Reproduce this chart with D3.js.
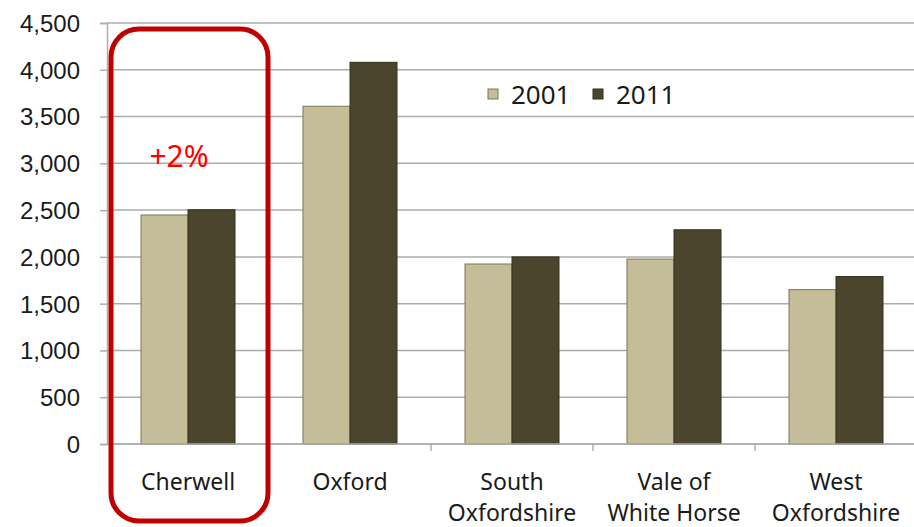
<!DOCTYPE html>
<html>
<head>
<meta charset="utf-8">
<script src="https://cdn.jsdelivr.net/npm/d3@7"></script>
<style>
  body { margin: 0; background: #fff; }
  svg { display: block; font-family: "Noto Sans", "Open Sans", sans-serif; }
</style>
</head>
<body>
<div id="chart"></div>
<script>
// data
var districts = ["Cherwell", "Oxford", "South Oxfordshire", "Vale of White Horse", "West Oxfordshire"];
var labelLines = [["Cherwell"], ["Oxford"], ["South", "Oxfordshire"], ["Vale of", "White Horse"], ["West", "Oxfordshire"]];
var years = ["2001", "2011"];
var values2001 = [2448, 3610, 1924, 1977, 1650];
var values2011 = [2504, 4080, 2000, 2290, 1790];
var yTicks = [0, 500, 1000, 1500, 2000, 2500, 3000, 3500, 4000, 4500];

var width = 914, height = 527;
var plot = {left: 107, right: 917, top: 23, bottom: 444};

var svg = d3.select("#chart").append("svg")
  .attr("width", width)
  .attr("height", height);

var x0 = d3.scaleBand().domain(districts).range([plot.left, plot.right]).padding(0);
var x1 = d3.scaleBand().domain(years).range([34, 128]).padding(0);
var y = d3.scaleLinear().domain([0, 4500]).range([plot.bottom, plot.top]);

var colors = {"2001": "#C4BD97", "2011": "#4A452C"};
var strokes = {"2001": "#7D7759", "2011": "#36321F"};

// gridlines
svg.append("g")
  .selectAll("line")
  .data(yTicks)
  .enter().append("line")
  .attr("x1", plot.left).attr("x2", width)
  .attr("y1", function(d){ return y(d); })
  .attr("y2", function(d){ return y(d); })
  .style("stroke", "#ADADAD")
  .style("stroke-width", 1.5);

// y axis
var yAxis = svg.append("g")
  .attr("transform", "translate(" + plot.left + ",0)")
  .call(d3.axisLeft(y).tickValues(yTicks).tickSize(7).tickPadding(6).tickFormat(d3.format(",")));
yAxis.select(".domain").style("stroke", "#ADADAD").style("stroke-width", 1.5);
yAxis.selectAll(".tick line").style("stroke", "#ADADAD").style("stroke-width", 1.5);
yAxis.selectAll("text")
  .style("font-size", "24px")
  .style("fill", "#1a1a1a")
  .attr("x", -27)
  .attr("dy", "0.35em");

// bars
var rows = districts.map(function(d, i){
  return {name: d, vals: [{year: "2001", v: values2001[i]}, {year: "2011", v: values2011[i]}]};
});

var groups = svg.append("g").selectAll("g")
  .data(rows)
  .enter().append("g")
  .attr("transform", function(d){ return "translate(" + x0(d.name) + ",0)"; });

groups.selectAll("rect")
  .data(function(d){ return d.vals; })
  .enter().append("rect")
  .attr("x", function(d){ return x1(d.year); })
  .attr("width", x1.bandwidth())
  .attr("y", function(d){ return y(d.v); })
  .attr("height", function(d){ return y(0) - y(d.v); })
  .style("fill", function(d){ return colors[d.year]; })
  .style("stroke", function(d){ return strokes[d.year]; })
  .style("stroke-width", 1);

// x axis line with category separators
var xAxis = svg.append("g");
xAxis.append("line")
  .attr("x1", plot.left).attr("x2", width)
  .attr("y1", y(0)).attr("y2", y(0))
  .style("stroke", "#ADADAD").style("stroke-width", 1.5);
xAxis.selectAll(".sep")
  .data(districts.slice(1))
  .enter().append("line")
  .attr("x1", function(d){ return x0(d); })
  .attr("x2", function(d){ return x0(d); })
  .attr("y1", y(0)).attr("y2", y(0) + 7)
  .style("stroke", "#ADADAD").style("stroke-width", 1.5);

var lbl = xAxis.selectAll(".lbl")
  .data(districts)
  .enter().append("text")
  .attr("text-anchor", "middle")
  .style("font-size", "23px")
  .style("fill", "#1a1a1a")
  .attr("transform", function(d){ return "translate(" + (x0(d) + x0.bandwidth() / 2) + ",490)"; });
lbl.each(function(d, i){
  var t = d3.select(this);
  labelLines[i].forEach(function(line, k){
    t.append("tspan").attr("x", 0).attr("dy", k === 0 ? 0 : 31).text(line);
  });
});

// legend
var legend = svg.append("g").attr("transform", "translate(488,89)");
years.forEach(function(yr, i){
  var g = legend.append("g").attr("transform", "translate(" + (i * 105) + ",0)");
  g.append("rect")
    .attr("width", 10).attr("height", 10)
    .style("fill", colors[yr]).style("stroke", strokes[yr]);
  g.append("text")
    .attr("x", 23).attr("y", 15)
    .style("font-size", "26px")
    .style("fill", "#1a1a1a")
    .text(yr);
});

// highlight around Cherwell
svg.append("rect")
  .attr("x", 111).attr("y", 29)
  .attr("width", 157).attr("height", 492)
  .attr("rx", 28).attr("ry", 28)
  .style("fill", "none")
  .style("stroke", "#C00000")
  .style("stroke-width", 5);

svg.append("text")
  .attr("x", 179).attr("y", 167)
  .attr("text-anchor", "middle")
  .style("font-size", "30px")
  .style("fill", "#FF0000")
  .text("+2%");
</script>
</body>
</html>
